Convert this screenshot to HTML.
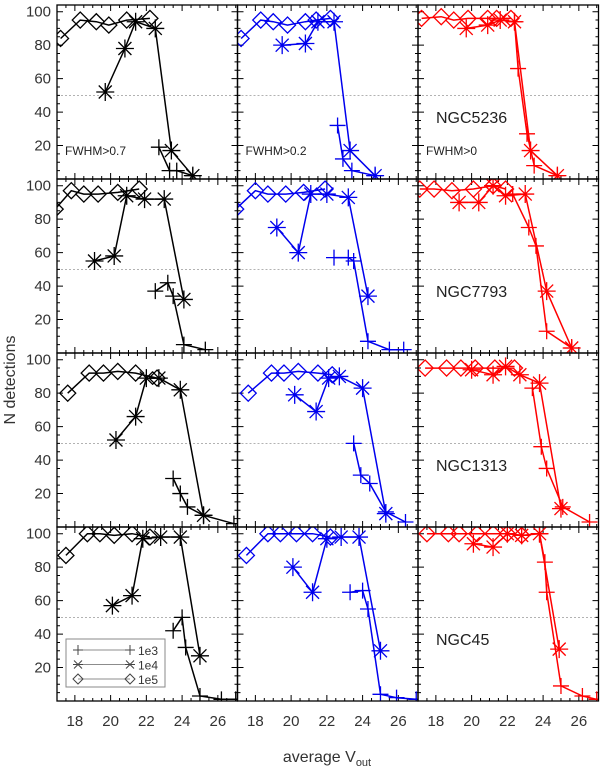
<!DOCTYPE html>
<html><head><meta charset="utf-8"><style>
html,body{margin:0;padding:0;background:#fff;}
svg{display:block;font-family:"Liberation Sans",sans-serif;}
</style></head><body>
<svg id="chart" width="600" height="768" viewBox="0 0 600 768" xmlns="http://www.w3.org/2000/svg"></svg>
<script>
// ---- data (x = average V_out, y = N detections) ----
const xTicks = [18,20,22,24,26];
const yTicks = [20,40,60,80,100];
const galaxies = ['NGC5236','NGC7793','NGC1313','NGC45'];
const fwhmLabels = ['FWHM>0.7','FWHM>0.2','FWHM>0'];
const legendLabels = ['1e3','1e4','1e5'];

// row 0 NGC5236
const r0c0_1e5_x=[17.2,18.3,19.2,19.9,20.9,22.2]; const r0c0_1e5_y=[84,95,94,92,95,96];
const r0c0_1e4_x=[19.7,20.8,21.4,22.5,23.4,24.6]; const r0c0_1e4_y=[52,78,94,90,17,2];
const r0c0_1e3_x=[22.7,23.3,23.7,24.6]; const r0c0_1e3_y=[19,5,5,2];
const r0c1_1e5_x=[17.2,18.3,19.0,19.8,20.8,21.4,22.2]; const r0c1_1e5_y=[84,95,94,92,94,95,96];
const r0c1_1e4_x=[19.5,20.8,21.5,22.4,23.3,24.7]; const r0c1_1e4_y=[80,81,94,94,17,2];
const r0c1_1e3_x=[22.6,22.9,23.4,24.7]; const r0c1_1e3_y=[32,12,5,2];
const r0c2_1e5_x=[17.2,18.3,19.0,19.8,20.9,21.4,22.2]; const r0c2_1e5_y=[96,97,95,96,96,96,96];
const r0c2_1e4_x=[19.7,20.9,21.6,22.4,23.3,24.8]; const r0c2_1e4_y=[90,92,95,94,17,2];
const r0c2_1e3_x=[22.4,22.6,23.1,23.5,24.8]; const r0c2_1e3_y=[94,66,27,8,2];
// row 1 NGC7793
const r1c0_1e5_x=[16.9,17.8,18.5,19.3,20.4,21.6]; const r1c0_1e5_y=[86,97,95,95,96,98];
const r1c0_1e4_x=[19.1,20.2,20.9,21.9,23.0,24.1]; const r1c0_1e4_y=[55,58,94,92,92,32];
const r1c0_1e3_x=[22.5,23.2,23.5,24.1,25.3]; const r1c0_1e3_y=[37,42,34,5,2];
const r1c1_1e5_x=[16.9,18.0,18.7,19.7,20.7,21.9]; const r1c1_1e5_y=[86,97,95,95,96,98];
const r1c1_1e4_x=[19.2,20.4,21.1,22.0,23.2,24.3]; const r1c1_1e4_y=[75,60,95,95,93,34];
const r1c1_1e3_x=[22.4,23.2,23.5,24.3,25.5,26.3]; const r1c1_1e3_y=[57,57,55,7,2,2];
const r1c2_1e5_x=[17.1,17.9,18.9,20.1,21.2,21.9]; const r1c2_1e5_y=[98,98,97,98,100,98];
const r1c2_1e4_x=[19.3,20.4,21.2,21.9,23.0,24.2,25.6]; const r1c2_1e4_y=[90,90,100,94,95,37,3];
const r1c2_1e3_x=[22.3,23.2,23.6,24.2,25.6]; const r1c2_1e3_y=[95,75,64,13,3];
// row 2 NGC1313
const r2c0_1e5_x=[17.6,18.8,19.6,20.4,21.4,22.6]; const r2c0_1e5_y=[80,92,92,93,92,89];
const r2c0_1e4_x=[20.3,21.4,22.0,22.7,23.9,25.2]; const r2c0_1e4_y=[52,66,89,89,82,7];
const r2c0_1e3_x=[23.5,23.9,24.3,25.2,26.9]; const r2c0_1e3_y=[29,20,12,7,2];
const r2c1_1e5_x=[17.6,18.9,19.6,20.4,21.5,22.3]; const r2c1_1e5_y=[80,92,92,93,92,91];
const r2c1_1e4_x=[20.2,21.4,22.1,22.7,24.0,25.3]; const r2c1_1e4_y=[79,69,89,90,83,8];
const r2c1_1e3_x=[23.5,23.9,24.4,25.3,26.4]; const r2c1_1e3_y=[50,31,26,9,3];
const r2c2_1e5_x=[17.4,18.6,19.4,20.2,21.3,22.4]; const r2c2_1e5_y=[95,95,95,95,95,95];
const r2c2_1e4_x=[20.0,21.2,21.9,22.7,23.8,25.0]; const r2c2_1e4_y=[94,91,96,91,86,11];
const r2c2_1e3_x=[23.4,23.9,24.2,25.1,26.6]; const r2c2_1e3_y=[83,48,35,12,3];
// row 3 NGC45
const r3c0_1e5_x=[17.5,18.7,19.4,20.2,21.2,22.2]; const r3c0_1e5_y=[87,100,100,99,100,98];
const r3c0_1e4_x=[20.1,21.2,21.8,22.8,23.9,25.0]; const r3c0_1e4_y=[57,63,97,98,98,27];
const r3c0_1e3_x=[23.5,24.0,24.2,25.0,26.2,27.0]; const r3c0_1e3_y=[42,50,32,3,1,1];
const r3c1_1e5_x=[17.5,18.7,19.4,20.3,21.2,22.2]; const r3c1_1e5_y=[87,100,100,100,100,98];
const r3c1_1e4_x=[20.1,21.2,22.0,22.8,23.8,25.0]; const r3c1_1e4_y=[80,65,97,98,98,30];
const r3c1_1e3_x=[23.3,24.0,24.3,25.0,25.9,27.0]; const r3c1_1e3_y=[65,66,55,4,2,1];
const r3c2_1e5_x=[17.5,18.7,19.3,20.3,21.2,22.0,22.8]; const r3c2_1e5_y=[100,100,100,100,100,100,99];
const r3c2_1e4_x=[20.1,21.2,22.0,22.8,23.8,24.9]; const r3c2_1e4_y=[94,92,100,99,100,31];
const r3c2_1e3_x=[23.8,24.1,24.2,25.0,26.2,27.0]; const r3c2_1e3_y=[100,83,65,9,3,1];

const panels = [
 [[r0c0_1e3_x,r0c0_1e3_y,r0c0_1e4_x,r0c0_1e4_y,r0c0_1e5_x,r0c0_1e5_y],[r0c1_1e3_x,r0c1_1e3_y,r0c1_1e4_x,r0c1_1e4_y,r0c1_1e5_x,r0c1_1e5_y],[r0c2_1e3_x,r0c2_1e3_y,r0c2_1e4_x,r0c2_1e4_y,r0c2_1e5_x,r0c2_1e5_y]],
 [[r1c0_1e3_x,r1c0_1e3_y,r1c0_1e4_x,r1c0_1e4_y,r1c0_1e5_x,r1c0_1e5_y],[r1c1_1e3_x,r1c1_1e3_y,r1c1_1e4_x,r1c1_1e4_y,r1c1_1e5_x,r1c1_1e5_y],[r1c2_1e3_x,r1c2_1e3_y,r1c2_1e4_x,r1c2_1e4_y,r1c2_1e5_x,r1c2_1e5_y]],
 [[r2c0_1e3_x,r2c0_1e3_y,r2c0_1e4_x,r2c0_1e4_y,r2c0_1e5_x,r2c0_1e5_y],[r2c1_1e3_x,r2c1_1e3_y,r2c1_1e4_x,r2c1_1e4_y,r2c1_1e5_x,r2c1_1e5_y],[r2c2_1e3_x,r2c2_1e3_y,r2c2_1e4_x,r2c2_1e4_y,r2c2_1e5_x,r2c2_1e5_y]],
 [[r3c0_1e3_x,r3c0_1e3_y,r3c0_1e4_x,r3c0_1e4_y,r3c0_1e5_x,r3c0_1e5_y],[r3c1_1e3_x,r3c1_1e3_y,r3c1_1e4_x,r3c1_1e4_y,r3c1_1e5_x,r3c1_1e5_y],[r3c2_1e3_x,r3c2_1e3_y,r3c2_1e4_x,r3c2_1e4_y,r3c2_1e5_x,r3c2_1e5_y]]
];

// ---- layout ----
const NS='http://www.w3.org/2000/svg';
const svg=document.getElementById('chart');
const colLeft=[57,237.5,418], colW=180.5;
const rowTop=[5,179,353,527], rowH=174;
const XMIN=17, XMAX=27.1, YMIN=0, YMAX=104;
const colors=['#000','#0000ee','#ff0000'];
function sx(c,v){return colLeft[c]+(v-XMIN)/(XMAX-XMIN)*colW;}
function sy(r,v){return rowTop[r]+rowH-(v-YMIN)/(YMAX-YMIN)*rowH;}
function mk(tag,attrs,parent){const e=document.createElementNS(NS,tag);for(const k in attrs)e.setAttribute(k,attrs[k]);(parent||svg).appendChild(e);return e;}

const defs=mk('defs',{});
for(let r=0;r<4;r++)for(let c=0;c<3;c++){
  const cp=mk('clipPath',{id:'cp'+r+c},defs);
  mk('rect',{x:colLeft[c],y:rowTop[r],width:colW,height:rowH},cp);
}

function marker(g,type,x,y,col){
  let el;
  if(type==='plus'){
    el=mk('path',{d:`M${x-8},${y}H${x+8}M${x},${y-8}V${y+8}`,stroke:col,'stroke-width':1.3,fill:'none'},g);
  }else if(type==='ast'){
    const s=9,d=6.5;
    el=mk('path',{d:`M${x-s},${y}H${x+s}M${x},${y-s}V${y+s}M${x-d},${y-d}L${x+d},${y+d}M${x-d},${y+d}L${x+d},${y-d}`,stroke:col,'stroke-width':1.3,fill:'none'},g);
  }else{
    const s=8;
    el=mk('path',{d:`M${x-s},${y}L${x},${y-s}L${x+s},${y}L${x},${y+s}Z`,stroke:col,'stroke-width':1.3,fill:'none'},g);
  }
  
  
}
const types=['plus','ast','dia'];
const snames=['1e3','1e4','1e5'];

for(let r=0;r<4;r++){
  for(let c=0;c<3;c++){
    const g=mk('g',{});
    
    
    const x0=colLeft[c],y0=rowTop[r];
    // ref dashed line at 50
    const ref=mk('line',{x1:x0,x2:x0+colW,y1:sy(r,50),y2:sy(r,50),stroke:'#999','stroke-width':0.8,'stroke-dasharray':'2,2'},g);
    
    
    // ticks
    let tp='';
    for(let v=17;v<=27.01;v+=0.5){const X=sx(c,v);const L=(Math.abs(v%2)<0.01)?6:3;tp+=`M${X},${y0+rowH}v${-L}M${X},${y0}v${L}`;}
    for(let v=5;v<=100;v+=5){const Y=sy(r,v);const L=(v%20===0)?6:3;tp+=`M${x0},${Y}h${L}M${x0+colW},${Y}h${-L}`;}
    const tk=mk('path',{d:tp,stroke:'#000','stroke-width':1,fill:'none'},g);
    
    
    // series
    const sg=mk('g',{'clip-path':`url(#cp${r}${c})`},g);
    const arrs=panels[r][c];
    for(let s=0;s<3;s++){
      const xs=arrs[s*2],ys=arrs[s*2+1];
      const pts=xs.map((v,i)=>sx(c,v).toFixed(1)+','+sy(r,ys[i]).toFixed(1)).join(' ');
      const pl=mk('polyline',{points:pts,fill:'none',stroke:colors[c],'stroke-width':1.5},sg);
      
      
      xs.forEach((v,i)=>marker(sg,types[s],sx(c,v),sy(r,ys[i]),colors[c]));
    }
    // frame
    const fr=mk('rect',{x:x0,y:y0,width:colW,height:rowH,fill:'none',stroke:'#000','stroke-width':1.3},g);
    
    
    // labels
    if(r===0){
      const t=mk('text',{x:x0+8,y:y0+150,'font-size':12,fill:'#222'},g);
      t.textContent=fwhmLabels[c];
      
      
    }
    if(c===2){
      const t=mk('text',{x:x0+18,y:y0+118,'font-size':16,fill:'#222'},g);
      t.textContent=galaxies[r];
      
      
    }
  }
  // y tick labels
  yTicks.forEach(v=>{
    const t=mk('text',{x:51,y:sy(r,v)+5,'font-size':15,'text-anchor':'end',fill:'#333'});
    t.textContent=v;
    
    
  });
}
for(let c=0;c<3;c++){
  xTicks.forEach(v=>{
    const t=mk('text',{x:sx(c,v),y:726,'font-size':15,'text-anchor':'middle',fill:'#333'});
    t.textContent=v;
    
    
  });
}
// axis titles
const xt=mk('text',{x:327,y:762,'font-size':16,'text-anchor':'middle',fill:'#333'});
xt.innerHTML='average V<tspan font-size="11" dy="4">out</tspan>';


const yt=mk('text',{x:0,y:0,'font-size':16,'text-anchor':'middle',fill:'#333',transform:'translate(15,380) rotate(-90)'});
yt.textContent='N detections';



// legend
const lg=mk('g',{});


mk('rect',{x:66,y:639,width:99,height:48,fill:'#fff',stroke:'#888','stroke-width':1},lg);
for(let i=0;i<3;i++){
  const Y=650+i*14.5, ent=mk('g',{},lg);
  
  
  mk('line',{x1:78,x2:130,y1:Y,y2:Y,stroke:'#666','stroke-width':0.8},ent);
  const sm=(x)=>{
    if(i===0) mk('path',{d:`M${x-5},${Y}h10M${x},${Y-5}v10`,stroke:'#444','stroke-width':1,fill:'none'},ent);
    else if(i===1) mk('path',{d:`M${x-4},${Y-4}l8,8M${x-4},${Y+4}l8,-8M${x-5},${Y}h10`,stroke:'#444','stroke-width':1,fill:'none'},ent);
    else mk('path',{d:`M${x-5},${Y}l5,-5l5,5l-5,5z`,stroke:'#444','stroke-width':1,fill:'none'},ent);
  };
  sm(78);sm(130);
  const t=mk('text',{x:138,y:Y+5,'font-size':12,fill:'#333'},ent);
  t.textContent=legendLabels[i];
}
</script>
</body></html>
